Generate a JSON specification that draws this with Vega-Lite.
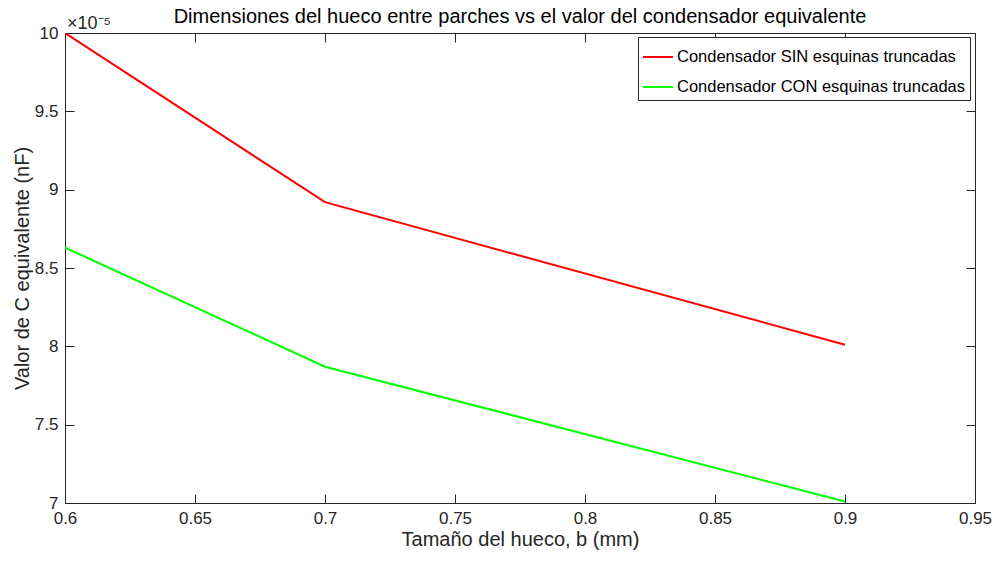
{
  "$schema": "https://vega.github.io/schema/vega-lite/v6.json",
  "width": 910,
  "height": 470,
  "autosize": {"type": "none"},
  "padding": {"left": 65, "top": 33, "right": 21, "bottom": 62},
  "background": "white",
  "title": {
    "text": "Dimensiones del hueco entre parches vs el valor del condensador equivalente",
    "font": "Liberation Sans",
    "fontSize": 20,
    "fontWeight": "normal",
    "color": "#000000",
    "anchor": "middle",
    "offset": -12
  },
  "config": {
    "view": {"stroke": "#262626", "strokeWidth": 1},
    "axis": {
      "labelFont": "Liberation Sans",
      "titleFont": "Liberation Sans",
      "labelFontSize": 17,
      "titleFontSize": 20,
      "titleFontWeight": "normal",
      "labelColor": "#262626",
      "titleColor": "#262626",
      "domainColor": "#262626",
      "tickColor": "#262626",
      "grid": false,
      "tickSize": -9
    }
  },
  "data": {
    "values": [
      {"b": 0.6, "C": 0.000100, "serie": "Condensador SIN esquinas truncadas"},
      {"b": 0.7, "C": 0.0000892, "serie": "Condensador SIN esquinas truncadas"},
      {"b": 0.9, "C": 0.0000801, "serie": "Condensador SIN esquinas truncadas"},
      {"b": 0.6, "C": 0.0000863, "serie": "Condensador CON esquinas truncadas"},
      {"b": 0.7, "C": 0.0000787, "serie": "Condensador CON esquinas truncadas"},
      {"b": 0.9, "C": 0.0000701, "serie": "Condensador CON esquinas truncadas"}
    ]
  },
  "layer": [
    {
      "mark": {"type": "line", "strokeWidth": 2, "clip": true},
      "encoding": {
        "x": {
          "field": "b", "type": "quantitative",
          "scale": {"domain": [0.6, 0.95], "nice": false, "zero": false},
          "axis": {
            "title": "Tamaño del hueco, b (mm)",
            "values": [0.6, 0.65, 0.7, 0.75, 0.8, 0.85, 0.9, 0.95],
            "format": ".2~f",
            "labelPadding": 16,
            "titlePadding": 3,
            "labelFlush": false
          }
        },
        "y": {
          "field": "C", "type": "quantitative",
          "scale": {"domain": [0.00007, 0.0001], "nice": false, "zero": false},
          "axis": {
            "title": "Valor de C equivalente (nF)",
            "values": [0.00007, 0.000075, 0.00008, 0.000085, 0.00009, 0.000095, 0.0001],
            "labelExpr": "format(datum.value * 100000, '.1~f')",
            "labelPadding": 16,
            "titlePadding": 2,
            "labelFlush": false
          }
        },
        "color": {
          "field": "serie", "type": "nominal",
          "scale": {
            "domain": ["Condensador SIN esquinas truncadas", "Condensador CON esquinas truncadas"],
            "range": ["#ff0000", "#00ff00"]
          },
          "legend": {
            "title": null,
            "orient": "none",
            "legendX": 573,
            "legendY": 4,
            "symbolType": "stroke",
            "symbolSize": 900,
            "symbolStrokeWidth": 2,
            "labelFont": "Liberation Sans",
            "labelFontSize": 16.5,
            "labelLimit": 500,
            "labelColor": "#000000",
            "labelOffset": 3,
            "rowPadding": 5,
            "padding": 4,
            "strokeColor": "#262626",
            "fillColor": "white"
          }
        }
      }
    },
    {
      "mark": {"type": "text", "align": "left", "baseline": "alphabetic", "dy": -4, "dx": 2, "font": "Liberation Sans", "fontSize": 18, "color": "#262626"},
      "data": {"values": [{"b": 0.6, "C": 0.0001, "t": "×10⁻⁵"}]},
      "encoding": {
        "x": {"field": "b", "type": "quantitative", "axis": {"title": null, "labels": false, "domain": false, "values": [0.6, 0.65, 0.7, 0.75, 0.8, 0.85, 0.9, 0.95]}},
        "y": {"field": "C", "type": "quantitative", "axis": {"title": null, "labels": false, "domain": false, "values": [0.00007, 0.000075, 0.00008, 0.000085, 0.00009, 0.000095, 0.0001]}},
        "text": {"field": "t"}
      }
    }
  ],
  "resolve": {"axis": {"x": "independent", "y": "independent"}}
}
